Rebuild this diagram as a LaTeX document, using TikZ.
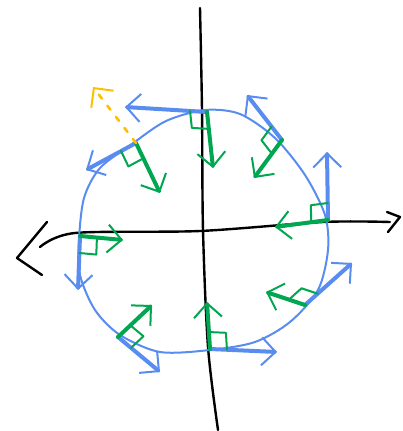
\documentclass[tikz,border=0pt]{standalone}
\usetikzlibrary{arrows.meta,calc}
\definecolor{penblue}{RGB}{88,140,240}
\definecolor{pengreen}{RGB}{0,166,80}
\definecolor{penorange}{RGB}{255,190,0}
\begin{document}
\begin{tikzpicture}[x=1pt,y=-1pt,line cap=round,line join=round,
  tip/.style={-{Straight Barb[length=14pt,width=28pt,line width=2pt]}}]
\useasboundingbox (0,0) rectangle (402,431);
% axes
\draw[line width=2.4pt] plot[smooth] coordinates {(200,8) (202,110) (203,230) (208,347) (218,430)};
\draw[line width=2.4pt] plot[smooth] coordinates {(40,247) (75,233) (200,231) (323,222) (390,222)};
\draw[line width=2.4pt] (47,222) -- (17,258) -- (42,275);
\draw[line width=2.4pt] (387,212) -- (400,217) -- (388,232);
% circle
\draw[penblue,line width=2pt] plot[smooth cycle] coordinates {(205,110) (240,114) (275,138) (305,175)
  (325,215) (328,250) (318,290) (290,322) (255,342) (210,350) (160,352) (120,335) (95,310) (80,275)
  (79,240) (84,198) (100,168) (132,144) (166,121)};
% points on the circle, tangent ends, normal ends
\coordinate (p1) at (207,112); \coordinate (t1) at (125,107); \coordinate (n1) at (213,168);
\coordinate (p2) at (282,140); \coordinate (t2) at (247,95);  \coordinate (n2) at (254,178);
\coordinate (p3) at (328,220); \coordinate (t3) at (327,152); \coordinate (n3) at (275,227);
\coordinate (p4) at (305,305); \coordinate (t4) at (352,263); \coordinate (n4) at (266,292);
\coordinate (p5) at (210,349); \coordinate (t5) at (277,352); \coordinate (n5) at (207,302);
\coordinate (p6) at (118,337); \coordinate (t6) at (160,372); \coordinate (n6) at (152,305);
\coordinate (p7) at (80,236);  \coordinate (t7) at (78,290);  \coordinate (n7) at (123,240);
\coordinate (p8) at (136,143); \coordinate (t8) at (86,170);  \coordinate (n8) at (160,193);
\foreach \i in {1,...,8} {
  \draw[penblue,line width=4pt,tip] (p\i) -- (t\i);
  \draw[pengreen,line width=4pt,tip] (p\i) -- (n\i);
  \draw[pengreen,line width=2pt] ($(p\i)!17pt!(t\i)$) -- ($($(p\i)!17pt!(t\i)$)+($(p\i)!17pt!(n\i)$)-(p\i)$) -- ($(p\i)!17pt!(n\i)$);
}
% outward normal
\draw[penorange,line width=2.6pt,dash pattern=on 5pt off 9pt,tip] (136,143) -- (93,87);
\end{tikzpicture}
\end{document}
